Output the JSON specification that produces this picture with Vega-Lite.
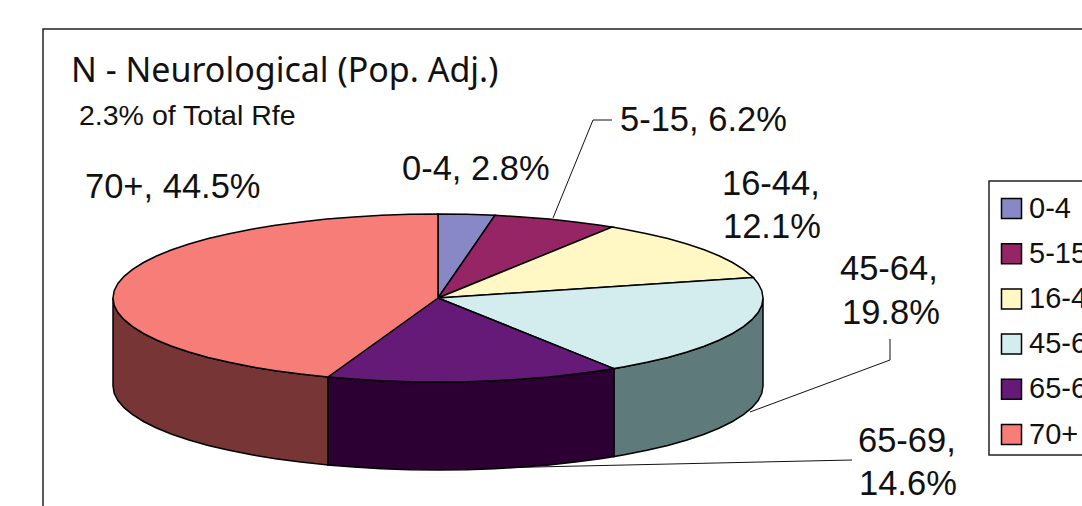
{"$schema":"https://vega.github.io/schema/vega-lite/v6.json","width":1082,"height":506,"padding":0,"autosize":{"type":"none"},"background":"white","view":{"stroke":null},
"title":{"text":"N - Neurological (Pop. Adj.)","anchor":"start","frame":"group","font":"Noto Sans","fontSize":34,"fontWeight":"normal","color":"#111111","baseline":"alphabetic","offset":0,"dx":71,"dy":116},
"datasets":{
"top":[
{"part":"0-4","i":0,"x":438,"y":298},{"part":"0-4","i":1,"x":438,"y":214},{"part":"0-4","i":2,"x":466.3,"y":214.3},{"part":"0-4","i":3,"x":495,"y":215.3},{"part":"0-4","i":4,"x":438,"y":298},
{"part":"5-15","i":0,"x":438,"y":298},{"part":"5-15","i":1,"x":495,"y":215.3},{"part":"5-15","i":2,"x":522.1,"y":216.9},{"part":"5-15","i":3,"x":549.2,"y":219.1},{"part":"5-15","i":4,"x":575.3,"y":221.9},{"part":"5-15","i":5,"x":600.5,"y":225.3},{"part":"5-15","i":6,"x":612.1,"y":227.1},{"part":"5-15","i":7,"x":438,"y":298},
{"part":"16-44","i":0,"x":438,"y":298},{"part":"16-44","i":1,"x":612.1,"y":227.1},{"part":"16-44","i":2,"x":624.4,"y":229.2},{"part":"16-44","i":3,"x":646.9,"y":233.7},{"part":"16-44","i":4,"x":667.8,"y":238.6},{"part":"16-44","i":5,"x":687,"y":244},{"part":"16-44","i":6,"x":704.2,"y":249.8},{"part":"16-44","i":7,"x":719.5,"y":256},{"part":"16-44","i":8,"x":732.5,"y":262.5},{"part":"16-44","i":9,"x":743.4,"y":269.3},{"part":"16-44","i":10,"x":751.9,"y":276.3},{"part":"16-44","i":11,"x":753.3,"y":277.6},{"part":"16-44","i":12,"x":438,"y":298},
{"part":"45-64","i":0,"x":438,"y":298},{"part":"45-64","i":1,"x":753.3,"y":277.6},{"part":"45-64","i":2,"x":758.1,"y":283.4},{"part":"45-64","i":3,"x":761.8,"y":290.7},{"part":"45-64","i":4,"x":763,"y":298},{"part":"45-64","i":5,"x":761.8,"y":305.3},{"part":"45-64","i":6,"x":758.1,"y":312.6},{"part":"45-64","i":7,"x":751.9,"y":319.7},{"part":"45-64","i":8,"x":743.4,"y":326.7},{"part":"45-64","i":9,"x":732.5,"y":333.5},{"part":"45-64","i":10,"x":719.5,"y":340},{"part":"45-64","i":11,"x":704.2,"y":346.2},{"part":"45-64","i":12,"x":687,"y":352},{"part":"45-64","i":13,"x":667.8,"y":357.4},{"part":"45-64","i":14,"x":646.9,"y":362.3},{"part":"45-64","i":15,"x":624.4,"y":366.8},{"part":"45-64","i":16,"x":613.9,"y":368.6},{"part":"45-64","i":17,"x":438,"y":298},
{"part":"65-69","i":0,"x":438,"y":298},{"part":"65-69","i":1,"x":613.9,"y":368.6},{"part":"65-69","i":2,"x":600.5,"y":370.7},{"part":"65-69","i":3,"x":575.3,"y":374.1},{"part":"65-69","i":4,"x":549.2,"y":376.9},{"part":"65-69","i":5,"x":522.1,"y":379.1},{"part":"65-69","i":6,"x":494.4,"y":380.7},{"part":"65-69","i":7,"x":466.3,"y":381.7},{"part":"65-69","i":8,"x":438,"y":382},{"part":"65-69","i":9,"x":409.7,"y":381.7},{"part":"65-69","i":10,"x":381.6,"y":380.7},{"part":"65-69","i":11,"x":353.9,"y":379.1},{"part":"65-69","i":12,"x":327.9,"y":377},{"part":"65-69","i":13,"x":438,"y":298},
{"part":"70+","i":0,"x":438,"y":298},{"part":"70+","i":1,"x":327.9,"y":377},{"part":"70+","i":2,"x":300.7,"y":374.1},{"part":"70+","i":3,"x":275.5,"y":370.7},{"part":"70+","i":4,"x":251.6,"y":366.8},{"part":"70+","i":5,"x":229.1,"y":362.3},{"part":"70+","i":6,"x":208.2,"y":357.4},{"part":"70+","i":7,"x":189,"y":352},{"part":"70+","i":8,"x":171.8,"y":346.2},{"part":"70+","i":9,"x":156.5,"y":340},{"part":"70+","i":10,"x":143.5,"y":333.5},{"part":"70+","i":11,"x":132.6,"y":326.7},{"part":"70+","i":12,"x":124.1,"y":319.7},{"part":"70+","i":13,"x":117.9,"y":312.6},{"part":"70+","i":14,"x":114.2,"y":305.3},{"part":"70+","i":15,"x":113,"y":298},{"part":"70+","i":16,"x":114.2,"y":290.7},{"part":"70+","i":17,"x":117.9,"y":283.4},{"part":"70+","i":18,"x":124.1,"y":276.3},{"part":"70+","i":19,"x":132.6,"y":269.3},{"part":"70+","i":20,"x":143.5,"y":262.5},{"part":"70+","i":21,"x":156.5,"y":256},{"part":"70+","i":22,"x":171.8,"y":249.8},{"part":"70+","i":23,"x":189,"y":244},{"part":"70+","i":24,"x":208.2,"y":238.6},{"part":"70+","i":25,"x":229.1,"y":233.7},{"part":"70+","i":26,"x":251.6,"y":229.2},{"part":"70+","i":27,"x":275.5,"y":225.3},{"part":"70+","i":28,"x":300.7,"y":221.9},{"part":"70+","i":29,"x":326.8,"y":219.1},{"part":"70+","i":30,"x":353.9,"y":216.9},{"part":"70+","i":31,"x":381.6,"y":215.3},{"part":"70+","i":32,"x":409.7,"y":214.3},{"part":"70+","i":33,"x":438,"y":214},{"part":"70+","i":34,"x":438,"y":298}
],
"side":[
{"wall":"45-64 side","i":0,"x":763,"y":298},{"wall":"45-64 side","i":1,"x":761.8,"y":305.3},{"wall":"45-64 side","i":2,"x":758.1,"y":312.6},{"wall":"45-64 side","i":3,"x":751.9,"y":319.7},{"wall":"45-64 side","i":4,"x":743.4,"y":326.7},{"wall":"45-64 side","i":5,"x":732.5,"y":333.5},{"wall":"45-64 side","i":6,"x":719.5,"y":340},{"wall":"45-64 side","i":7,"x":704.2,"y":346.2},{"wall":"45-64 side","i":8,"x":687,"y":352},{"wall":"45-64 side","i":9,"x":667.8,"y":357.4},{"wall":"45-64 side","i":10,"x":646.9,"y":362.3},{"wall":"45-64 side","i":11,"x":624.4,"y":366.8},{"wall":"45-64 side","i":12,"x":613.9,"y":368.6},{"wall":"45-64 side","i":13,"x":613.9,"y":456.6},{"wall":"45-64 side","i":14,"x":624.4,"y":454.8},{"wall":"45-64 side","i":15,"x":646.9,"y":450.3},{"wall":"45-64 side","i":16,"x":667.8,"y":445.4},{"wall":"45-64 side","i":17,"x":687,"y":440},{"wall":"45-64 side","i":18,"x":704.2,"y":434.2},{"wall":"45-64 side","i":19,"x":719.5,"y":428},{"wall":"45-64 side","i":20,"x":732.5,"y":421.5},{"wall":"45-64 side","i":21,"x":743.4,"y":414.7},{"wall":"45-64 side","i":22,"x":751.9,"y":407.7},{"wall":"45-64 side","i":23,"x":758.1,"y":400.6},{"wall":"45-64 side","i":24,"x":761.8,"y":393.3},{"wall":"45-64 side","i":25,"x":763,"y":386},{"wall":"45-64 side","i":26,"x":763,"y":298},
{"wall":"65-69 side","i":0,"x":613.9,"y":368.6},{"wall":"65-69 side","i":1,"x":600.5,"y":370.7},{"wall":"65-69 side","i":2,"x":575.3,"y":374.1},{"wall":"65-69 side","i":3,"x":549.2,"y":376.9},{"wall":"65-69 side","i":4,"x":522.1,"y":379.1},{"wall":"65-69 side","i":5,"x":494.4,"y":380.7},{"wall":"65-69 side","i":6,"x":466.3,"y":381.7},{"wall":"65-69 side","i":7,"x":438,"y":382},{"wall":"65-69 side","i":8,"x":409.7,"y":381.7},{"wall":"65-69 side","i":9,"x":381.6,"y":380.7},{"wall":"65-69 side","i":10,"x":353.9,"y":379.1},{"wall":"65-69 side","i":11,"x":327.9,"y":377},{"wall":"65-69 side","i":12,"x":327.9,"y":465},{"wall":"65-69 side","i":13,"x":353.9,"y":467.1},{"wall":"65-69 side","i":14,"x":381.6,"y":468.7},{"wall":"65-69 side","i":15,"x":409.7,"y":469.7},{"wall":"65-69 side","i":16,"x":438,"y":470},{"wall":"65-69 side","i":17,"x":466.3,"y":469.7},{"wall":"65-69 side","i":18,"x":494.4,"y":468.7},{"wall":"65-69 side","i":19,"x":522.1,"y":467.1},{"wall":"65-69 side","i":20,"x":549.2,"y":464.9},{"wall":"65-69 side","i":21,"x":575.3,"y":462.1},{"wall":"65-69 side","i":22,"x":600.5,"y":458.7},{"wall":"65-69 side","i":23,"x":613.9,"y":456.6},{"wall":"65-69 side","i":24,"x":613.9,"y":368.6},
{"wall":"70+ side","i":0,"x":327.9,"y":377},{"wall":"70+ side","i":1,"x":300.7,"y":374.1},{"wall":"70+ side","i":2,"x":275.5,"y":370.7},{"wall":"70+ side","i":3,"x":251.6,"y":366.8},{"wall":"70+ side","i":4,"x":229.1,"y":362.3},{"wall":"70+ side","i":5,"x":208.2,"y":357.4},{"wall":"70+ side","i":6,"x":189,"y":352},{"wall":"70+ side","i":7,"x":171.8,"y":346.2},{"wall":"70+ side","i":8,"x":156.5,"y":340},{"wall":"70+ side","i":9,"x":143.5,"y":333.5},{"wall":"70+ side","i":10,"x":132.6,"y":326.7},{"wall":"70+ side","i":11,"x":124.1,"y":319.7},{"wall":"70+ side","i":12,"x":117.9,"y":312.6},{"wall":"70+ side","i":13,"x":114.2,"y":305.3},{"wall":"70+ side","i":14,"x":113,"y":298},{"wall":"70+ side","i":15,"x":113,"y":386},{"wall":"70+ side","i":16,"x":114.2,"y":393.3},{"wall":"70+ side","i":17,"x":117.9,"y":400.6},{"wall":"70+ side","i":18,"x":124.1,"y":407.7},{"wall":"70+ side","i":19,"x":132.6,"y":414.7},{"wall":"70+ side","i":20,"x":143.5,"y":421.5},{"wall":"70+ side","i":21,"x":156.5,"y":428},{"wall":"70+ side","i":22,"x":171.8,"y":434.2},{"wall":"70+ side","i":23,"x":189,"y":440},{"wall":"70+ side","i":24,"x":208.2,"y":445.4},{"wall":"70+ side","i":25,"x":229.1,"y":450.3},{"wall":"70+ side","i":26,"x":251.6,"y":454.8},{"wall":"70+ side","i":27,"x":275.5,"y":458.7},{"wall":"70+ side","i":28,"x":300.7,"y":462.1},{"wall":"70+ side","i":29,"x":327.9,"y":465},{"wall":"70+ side","i":30,"x":327.9,"y":377}
],
"leaders":[
{"line":"5-15","i":0,"x":553,"y":218},{"line":"5-15","i":1,"x":593,"y":120},{"line":"5-15","i":2,"x":612,"y":120},
{"line":"45-64","i":0,"x":890,"y":339},{"line":"45-64","i":1,"x":890,"y":360},{"line":"45-64","i":2,"x":750,"y":412},
{"line":"65-69","i":0,"x":852,"y":460},{"line":"65-69","i":1,"x":490,"y":468}
],
"frame":[{"line":"chart","i":0,"x":43,"y":506},{"line":"chart","i":1,"x":43,"y":29},{"line":"chart","i":2,"x":1082,"y":29},
{"line":"legend","i":0,"x":1082,"y":181},{"line":"legend","i":1,"x":989,"y":181},{"line":"legend","i":2,"x":989,"y":455},{"line":"legend","i":3,"x":1082,"y":455}],
"labels":[
{"label":"0-4, 2.8%","x":402,"y":180},
{"label":"5-15, 6.2%","x":620,"y":131},
{"label":"16-44,","x":722,"y":195},
{"label":"12.1%","x":723,"y":238},
{"label":"45-64,","x":840,"y":280},
{"label":"19.8%","x":842,"y":324},
{"label":"65-69,","x":858,"y":452},
{"label":"14.6%","x":859,"y":495},
{"label":"70+, 44.5%","x":85,"y":198}
]
},
"encoding":{
"x":{"field":"x","type":"quantitative","axis":null,"scale":{"domain":[0,1082],"nice":false,"zero":false}},
"y":{"field":"y","type":"quantitative","axis":null,"scale":{"domain":[506,0],"nice":false,"zero":false}}
},
"layer":[
{"data":{"name":"frame"},"mark":{"type":"line","stroke":"#222222","strokeWidth":1.5},"encoding":{"detail":{"field":"line"},"order":{"field":"i"}}},
{"data":{"name":"leaders"},"mark":{"type":"line","stroke":"#111111","strokeWidth":1},"encoding":{"detail":{"field":"line"},"order":{"field":"i"}}},
{"data":{"name":"side"},"mark":{"type":"line","stroke":"black","strokeWidth":1.5},"encoding":{"order":{"field":"i"},"fill":{"field":"wall","type":"nominal","legend":null,"scale":{"domain":["45-64 side","65-69 side","70+ side"],"range":["#5f7a7a","#2c0033","#773535"]}}}},
{"data":{"name":"top"},"mark":{"type":"line","stroke":"black","strokeWidth":1.5},"encoding":{"order":{"field":"i"},"fill":{"field":"part","type":"nominal","scale":{"domain":["0-4","5-15","16-44","45-64","65-69","70+"],"range":["#8888c6","#952564","#fff8c4","#d3edee","#661a78","#f67d78"]},"legend":{"title":null,"orient":"none","legendX":997,"legendY":194,"padding":0,"symbolType":"square","symbolSize":400,"symbolStrokeColor":"black","symbolStrokeWidth":1.5,"labelFont":"Liberation Sans","labelFontSize":29,"labelColor":"#111111","labelLimit":300,"rowPadding":15.2,"labelOffset":3}}}},
{"data":{"name":"labels"},"mark":{"type":"text","align":"left","baseline":"alphabetic","font":"Liberation Sans","fontSize":34.5,"color":"#111111"},"encoding":{"text":{"field":"label"}}},
{"data":{"values":[{"label":"2.3% of Total Rfe","x":79,"y":125}]},"mark":{"type":"text","align":"left","baseline":"alphabetic","font":"Liberation Sans","fontSize":28.5,"color":"#111111"},"encoding":{"text":{"field":"label"}}}
],
"resolve":{"scale":{"fill":"independent"}}
}
